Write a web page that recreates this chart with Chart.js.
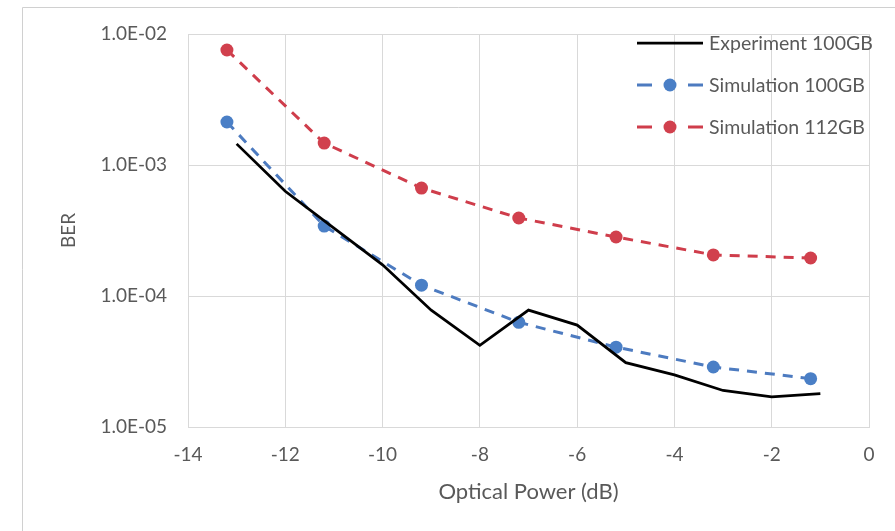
<!DOCTYPE html>
<html>
<head>
<meta charset="utf-8">
<script src="https://cdn.jsdelivr.net/npm/chart.js@4.4.0/dist/chart.umd.min.js"></script>
<style>
html, body { margin: 0; padding: 0; background: #fff; }
#wrap { width: 895px; height: 531px; position: relative; }
</style>
</head>
<body>
<div id="wrap"><canvas id="berChart" width="895" height="531"></canvas></div>
<script>
// measured BER vs received optical power
const expPower = [-13, -12, -11, -10, -9, -8, -7, -6, -5, -4, -3, -2, -1];
const expBer = [1.45e-3, 6.3e-4, 3.3e-4, 1.73e-4, 7.8e-5, 4.2e-5, 7.8e-5, 6.0e-5, 3.1e-5, 2.5e-5, 1.9e-5, 1.7e-5, 1.8e-5];

// simulated points
const simPower = [-13.2, -11.2, -9.2, -7.2, -5.2, -3.2, -1.2];
const sim100Ber = [2.13e-3, 3.42e-4, 1.21e-4, 6.3e-5, 4.07e-5, 2.87e-5, 2.34e-5];
const sim112Ber = [7.55e-3, 1.47e-3, 6.67e-4, 3.94e-4, 2.82e-4, 2.06e-4, 1.95e-4];

const seriesNames = ["Experiment 100GB", "Simulation 100GB", "Simulation 112GB"];
const berTicks = [1e-5, 1e-4, 1e-3, 1e-2];

const FONT = "Lato, 'Open Sans', sans-serif";
const TEXT = "#595959";
const GRID = "#d9d9d9";

function toPoints(xs, ys) {
    return xs.map((x, i) => ({ x: x, y: ys[i] }));
}

function sci(v) {
    const e = Math.round(Math.log10(v));
    return "1.0E" + (e < 0 ? "-" : "+") + String(Math.abs(e)).padStart(2, "0");
}

// outer frame like the spreadsheet chart border
const framePlugin = {
    id: "frame",
    beforeDraw(chart) {
        const ctx = chart.ctx;
        ctx.save();
        ctx.fillStyle = "#fff";
        ctx.fillRect(0, 0, chart.width, chart.height);
        ctx.strokeStyle = "#d0d0d0";
        ctx.lineWidth = 1;
        ctx.beginPath();
        ctx.moveTo(22.5, chart.height);
        ctx.lineTo(22.5, 7.5);
        ctx.lineTo(chart.width, 7.5);
        ctx.stroke();
        ctx.restore();
    }
};

// legend drawn inside the plot, top right
const legendPlugin = {
    id: "insideLegend",
    afterDraw(chart) {
        const ctx = chart.ctx;
        ctx.save();
        ctx.font = "19.5px " + FONT;
        ctx.textBaseline = "middle";
        chart.data.datasets.forEach((ds, i) => {
            const y = 43 + i * 42;
            const x0 = 637, x1 = 703;
            ctx.strokeStyle = ds.borderColor;
            ctx.lineWidth = ds.borderWidth;
            if (ds.borderDash && ds.borderDash.length) {
                ctx.beginPath();
                ctx.moveTo(x0, y); ctx.lineTo(x0 + 15, y);
                ctx.moveTo(x1 - 15, y); ctx.lineTo(x1, y);
                ctx.stroke();
            } else {
                ctx.beginPath();
                ctx.moveTo(x0, y); ctx.lineTo(x1, y);
                ctx.stroke();
            }
            if (ds.pointRadius > 0) {
                ctx.fillStyle = ds.pointBackgroundColor;
                ctx.beginPath();
                ctx.arc((x0 + x1) / 2, y, ds.pointRadius, 0, Math.PI * 2);
                ctx.fill();
            }
            ctx.fillStyle = TEXT;
            ctx.fillText(ds.label, 709, y + 1);
        });
        ctx.restore();
    }
};

new Chart(document.getElementById("berChart"), {
    type: "line",
    data: {
        datasets: [
            {
                label: seriesNames[0],
                data: toPoints(expPower, expBer),
                borderColor: "#000000",
                borderWidth: 2.75,
                pointRadius: 0,
                tension: 0
            },
            {
                label: seriesNames[1],
                data: toPoints(simPower, sim100Ber),
                borderColor: "#4d7bc0",
                borderWidth: 3,
                borderDash: [10, 8],
                pointRadius: 6.5,
                pointBackgroundColor: "#4a7fc6",
                pointBorderWidth: 0,
                tension: 0
            },
            {
                label: seriesNames[2],
                data: toPoints(simPower, sim112Ber),
                borderColor: "#cf3d4b",
                borderWidth: 3,
                borderDash: [10, 8],
                pointRadius: 6.5,
                pointBackgroundColor: "#d1404d",
                pointBorderWidth: 0,
                tension: 0
            }
        ]
    },
    options: {
        responsive: false,
        animation: false,
        layout: { padding: { top: 34, right: 26, left: 0, bottom: 0 } },
        plugins: {
            legend: { display: false },
            tooltip: { enabled: false }
        },
        scales: {
            x: {
                type: "linear",
                min: -14,
                max: 0,
                afterFit(scale) { scale.height = 104; },
                ticks: {
                    stepSize: 2,
                    padding: 16,
                    color: TEXT,
                    font: { family: FONT, size: 19 }
                },
                grid: { color: GRID, drawTicks: false },
                border: { color: GRID },
                title: {
                    display: true,
                    text: "Optical Power (dB)",
                    color: TEXT,
                    font: { family: FONT, size: 22 },
                    padding: { top: 0, bottom: 26 }
                }
            },
            y: {
                type: "logarithmic",
                min: 1e-5,
                max: 1e-2,
                afterFit(scale) { scale.width = 188; },
                afterBuildTicks(scale) {
                    scale.ticks = berTicks.map(v => ({ value: v }));
                },
                ticks: {
                    padding: 21,
                    color: TEXT,
                    font: { family: FONT, size: 19 },
                    callback: v => sci(v)
                },
                grid: { color: GRID, drawTicks: false },
                border: { color: GRID },
                title: {
                    display: true,
                    text: "BER",
                    color: TEXT,
                    font: { family: FONT, size: 19 },
                    padding: { top: 57, bottom: 0 }
                }
            }
        }
    },
    plugins: [framePlugin, legendPlugin]
});
</script>
</body>
</html>
